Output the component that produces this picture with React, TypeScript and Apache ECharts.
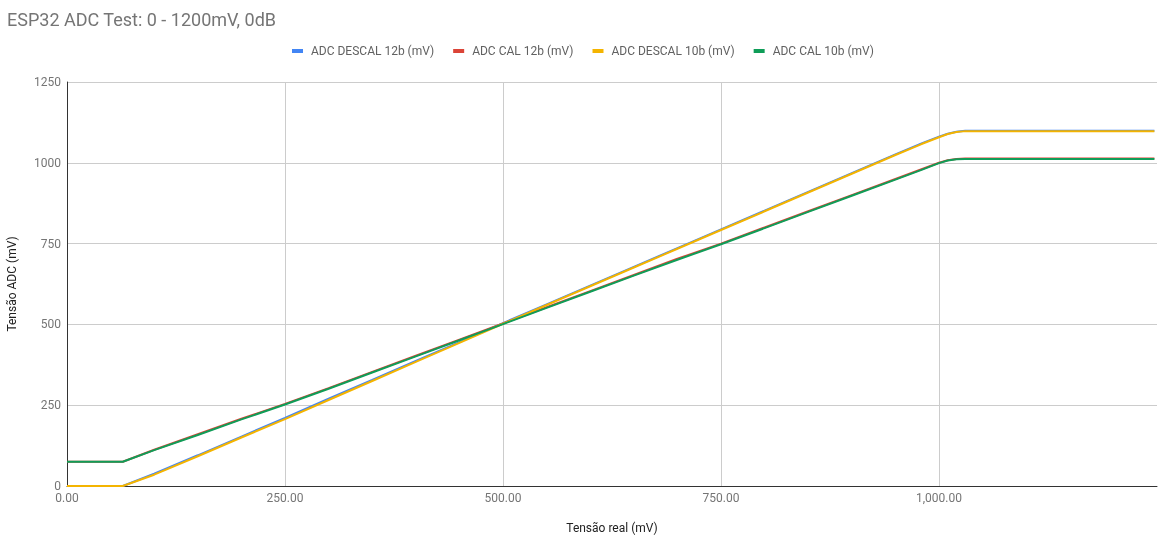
import React, { useEffect, useRef } from "react";
import * as echarts from "echarts";

const xValues = [0, 30, 64, 100, 150, 200, 250, 300, 350, 400, 450, 500, 550, 600, 650, 700, 750, 800, 850, 900, 950, 980, 1000, 1010, 1020, 1030, 1100, 1150, 1200, 1247];
const descal12b = [0, 0, 0, 38, 95, 153, 211, 270, 328, 387, 445, 504, 562, 620, 678, 736, 794, 852, 910, 968, 1026, 1060, 1081, 1090, 1096, 1099, 1099, 1099, 1099, 1099];
const cal12b = [75, 75, 75, 112, 160, 208, 254, 303, 353, 403, 453, 503, 553, 603, 653, 703, 750, 800, 850, 900, 950, 980, 1000, 1008, 1012, 1013, 1013, 1013, 1013, 1013];
const descal10b = [0, 0, 0, 35, 92, 150, 207, 266, 325, 384, 443, 502, 560, 618, 676, 734, 792, 850, 908, 966, 1024, 1058, 1079, 1089, 1095, 1098, 1098, 1098, 1098, 1098];
const cal10b = [75, 75, 75, 111, 158, 206, 252, 301, 351, 401, 451, 501, 551, 601, 651, 700, 748, 798, 848, 898, 948, 978, 999, 1007, 1011, 1012, 1012, 1012, 1012, 1012];

const seriesNames = ["ADC DESCAL 12b (mV)", "ADC CAL 12b (mV)", "ADC DESCAL 10b (mV)", "ADC CAL 10b (mV)"];
const seriesColors = ["#4285F4", "#DB4437", "#F4B400", "#0F9D58"];
const seriesData = [descal12b, cal12b, descal10b, cal10b];

const fmtX = (v: number) =>
  v.toLocaleString("en-US", { minimumFractionDigits: 2, maximumFractionDigits: 2 });

export default function App() {
  const ref = useRef<HTMLDivElement>(null);
  useEffect(() => {
    document.body.style.margin = "0";
    if (!ref.current) return;
    const chart = echarts.init(ref.current, null, { renderer: "svg" });
    const font = "Roboto, 'Noto Sans', sans-serif";
    chart.setOption({
      animation: false,
      textStyle: { fontFamily: font },
      title: {
        text: "ESP32 ADC Test: 0 - 1200mV, 0dB",
        left: 2,
        top: 5,
        textStyle: { fontSize: 18, fontWeight: "normal", color: "#757575", fontFamily: font },
      },
      legend: {
        top: 40,
        left: "center",
        icon: "rect",
        itemWidth: 11,
        itemHeight: 4,
        itemGap: 19,
        textStyle: { fontSize: 12, color: "#616161", fontFamily: font, padding: [0, 0, 0, 3] },
        data: seriesNames,
      },
      grid: { left: 67, right: 9, top: 82, bottom: 56, containLabel: false, outerBoundsMode: "none" },
      xAxis: {
        type: "value",
        min: 0,
        max: 1250,
        interval: 250,
        name: "Tensão real (mV)",
        nameLocation: "middle",
        nameGap: 36,
        nameTextStyle: { fontSize: 12, color: "#222", fontFamily: font },
        axisLine: { show: true, lineStyle: { color: "#333", width: 1 } },
        axisTick: { show: false },
        axisLabel: {
          color: "#757575",
          fontSize: 12,
          margin: 6,
          showMaxLabel: false,
          formatter: (v: number) => fmtX(v),
        },
        splitLine: { show: true, showMinLine: false, showMaxLine: false, lineStyle: { color: "#cccccc", width: 1 } },
      },
      yAxis: {
        type: "value",
        min: 0,
        max: 1250,
        interval: 250,
        name: "Tensão ADC (mV)",
        nameLocation: "middle",
        nameGap: 49,
        nameTextStyle: { fontSize: 12, color: "#222", fontFamily: font },
        axisLine: { show: true, lineStyle: { color: "#333", width: 1 } },
        axisTick: { show: false },
        axisLabel: { color: "#757575", fontSize: 12, margin: 6, formatter: (v: number) => String(v) },
        splitLine: { show: true, lineStyle: { color: "#cccccc", width: 1 } },
      },
      series: seriesNames.map((name, i) => ({
        name,
        type: "line",
        data: xValues.map((x, j) => [x, seriesData[i][j]]),
        showSymbol: false,
        symbol: "none",
        smooth: false,
        lineStyle: { width: 2, color: seriesColors[i] },
        itemStyle: { color: seriesColors[i] },
        emphasis: { disabled: true },
      })),
    });
    return () => chart.dispose();
  }, []);
  return <div ref={ref} style={{ position: "fixed", left: 0, top: 0, width: 1166, height: 542 }} />;
}
